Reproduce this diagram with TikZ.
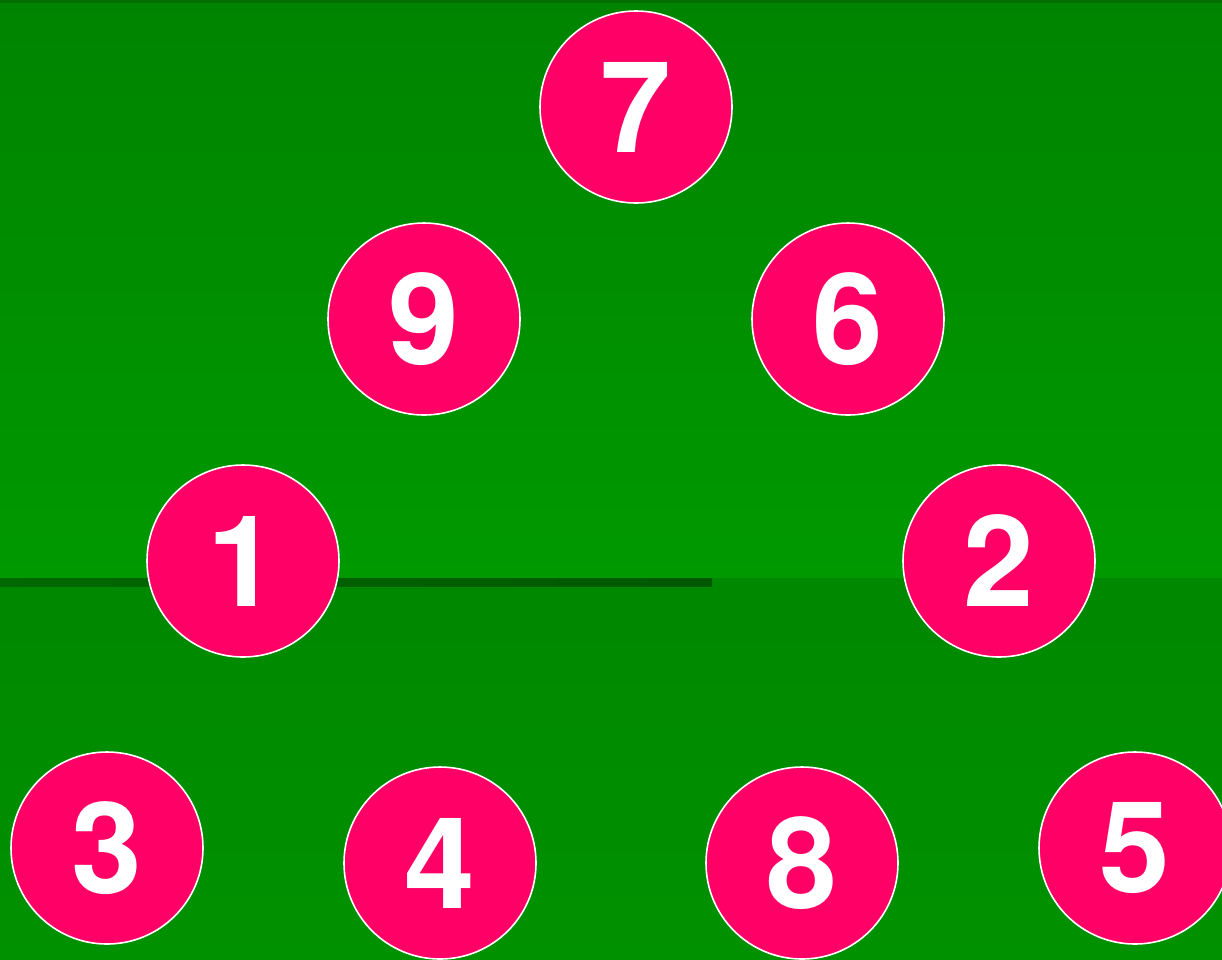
\documentclass[tikz,border=0pt]{standalone}
\usepackage{fontspec}
\setmainfont{TeX Gyre Heros}
\usetikzlibrary{positioning}
\definecolor{pitchTop}{RGB}{0,132,0}
\definecolor{pitchMid}{RGB}{0,153,0}
\definecolor{pitchLow}{RGB}{0,136,0}
\definecolor{pitchBot}{RGB}{0,145,0}
\definecolor{pitchEdge}{RGB}{0,110,0}
\definecolor{lineDark}{RGB}{0,88,0}
\definecolor{lineLeft}{RGB}{0,104,0}
\definecolor{ballPink}{RGB}{255,0,102}

\begin{document}
\begin{tikzpicture}[x=1pt, y=-1pt,
    ball/.style={circle, fill=ballPink, draw=white, line width=1.6pt,
                 minimum size=192pt, inner sep=0pt,
                 font=\fontsize{127}{127}\selectfont\bfseries, text=white}
  ]
  % background
  \useasboundingbox (0,0) rectangle (1222,959);
  \shade[top color=pitchTop, bottom color=pitchMid] (0,0) rectangle (1222,578);
  \shade[top color=pitchLow, bottom color=pitchBot] (0,578) rectangle (1222,959);
  \fill[pitchEdge] (0,0) rectangle (1222,3);
  \shade[left color=lineLeft, right color=lineDark] (0,578) rectangle (712,586);

  \node[ball] (n7) at (636,107) {7};
  \node[ball] (n9) at (424,319) {9};
  \node[ball] (n6) at (848,319) {6};
  \node[ball] (n1) at (243,561) {1};
  \node[ball] (n2) at (999,561) {2};
  \node[ball] (n3) at (107,848) {3};
  \node[ball] (n4) at (440,863) {4};
  \node[ball] (n8) at (802,863) {8};
  \node[ball] (n5) at (1135,848) {5};
\end{tikzpicture}
\end{document}
